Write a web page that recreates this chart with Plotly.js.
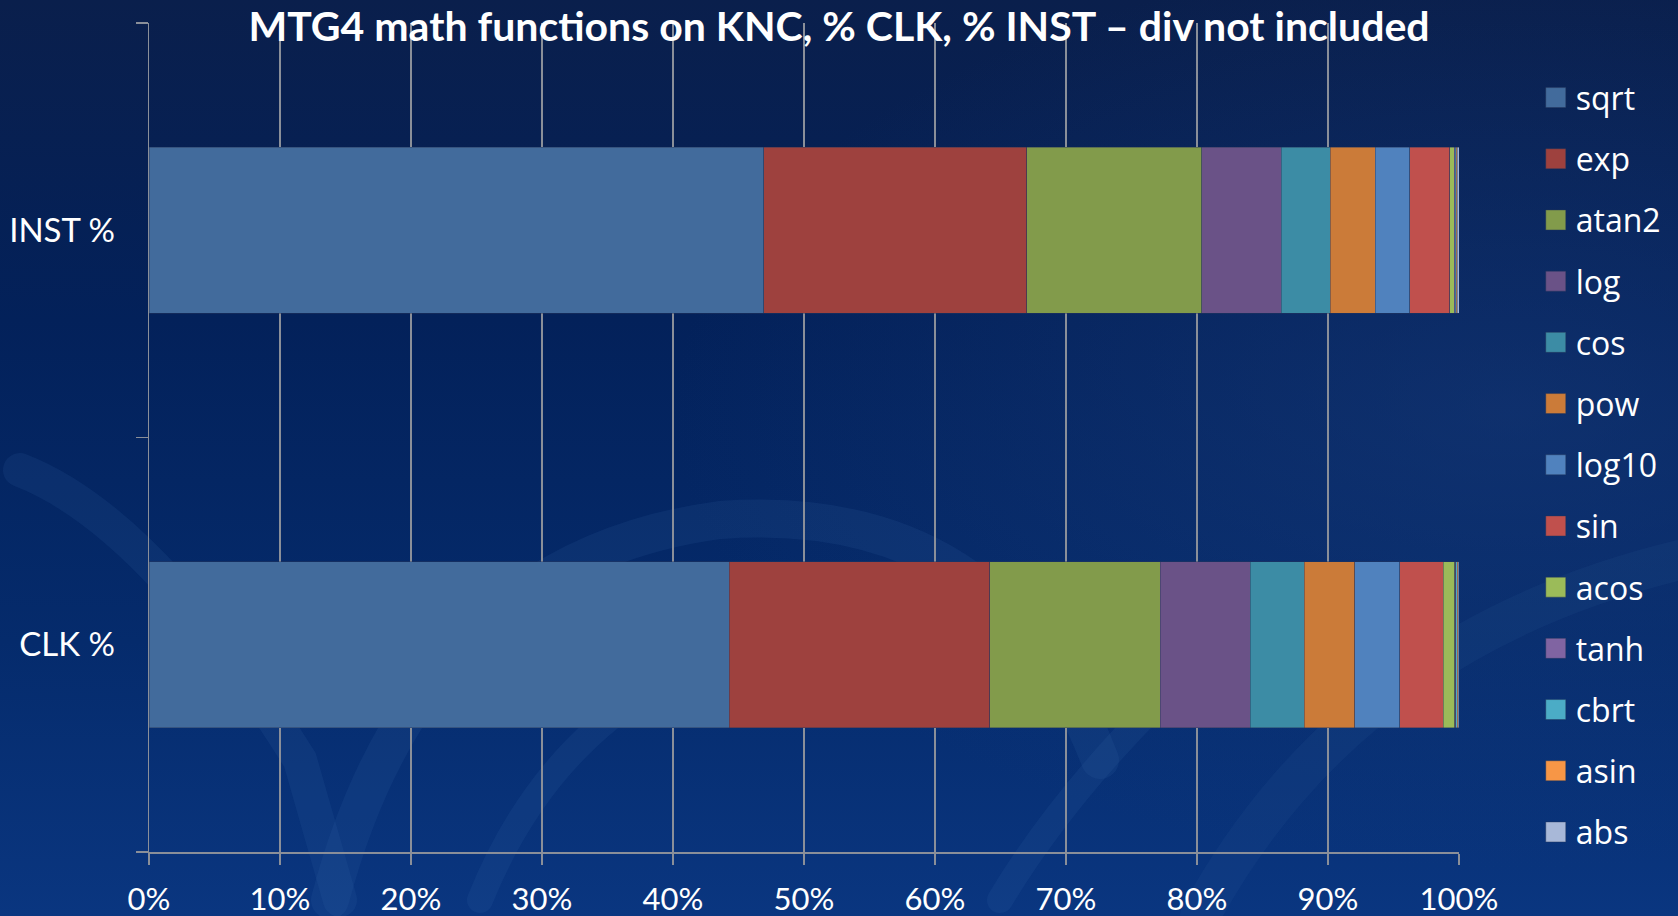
<!DOCTYPE html>
<html>
<head>
<meta charset="utf-8">
<script src="https://cdn.plot.ly/plotly-3.0.1.min.js"></script>
<style>
  html, body { margin: 0; padding: 0; width: 1678px; height: 916px; overflow: hidden; }
  body {
    background: linear-gradient(180deg, #0a1f4c 0%, #03215a 35%, #052b6c 70%, #0a3680 100%);
    position: relative;
  }
  #bg { position: absolute; left: 0; top: 0; width: 1678px; height: 916px; }
  #chart { position: absolute; left: 0; top: 0; width: 1678px; height: 916px; }
</style>
</head>
<body>
<!-- faint watermark swirls behind the chart -->
<svg id="bg" viewBox="0 0 1678 916" xmlns="http://www.w3.org/2000/svg">
  <defs>
    <radialGradient id="glow" cx="0.9" cy="0.45" r="0.5">
      <stop offset="0" stop-color="#1c3f7e" stop-opacity="0.45"/>
      <stop offset="1" stop-color="#1c3f7e" stop-opacity="0"/>
    </radialGradient>
  </defs>
  <rect x="0" y="0" width="1678" height="916" fill="url(#glow)"/>
  <g fill="none" stroke="#3a67a8" stroke-opacity="0.14" stroke-linecap="round">
    <path d="M 330 900 Q 420 560 720 520 Q 1000 500 1100 760" stroke-width="38"/>
    <path d="M 20 470 Q 150 520 300 760 L 340 900" stroke-width="34"/>
    <path d="M 480 900 Q 560 700 760 640" stroke-width="26"/>
    <path d="M 1000 900 Q 1060 800 1160 700" stroke-width="26"/>
    <path d="M 1200 916 Q 1350 640 1680 560" stroke-width="40" stroke-opacity="0.1"/>
  </g>
</svg>
<div id="chart"></div>
<script>
// Share of each math function, per metric (percent of total)
const categories = ["CLK %", "INST %"];
const functionNames = ["sqrt", "exp", "atan2", "log", "cos", "pow", "log10",
                       "sin", "acos", "tanh", "cbrt", "asin", "abs"];
// values ordered as [CLK %, INST %]
const sqrtVals  = [44.29, 46.94];
const expVals   = [19.90, 20.07];
const atan2Vals = [13.02, 13.35];
const logVals   = [6.87, 6.09];
const cosVals   = [4.09, 3.74];
const powVals   = [3.89, 3.43];
const log10Vals = [3.42, 2.62];
const sinVals   = [3.33, 3.05];
const acosVals  = [0.86, 0.33];
const tanhVals  = [0.08, 0.10];
const cbrtVals  = [0.10, 0.08];
const asinVals  = [0.08, 0.08];
const absVals   = [0.07, 0.12];
const xTickVals = [0, 10, 20, 30, 40, 50, 60, 70, 80, 90, 100];
const xTickText = ["0%", "10%", "20%", "30%", "40%", "50%", "60%", "70%", "80%", "90%", "100%"];

const seriesValues = [sqrtVals, expVals, atan2Vals, logVals, cosVals, powVals, log10Vals,
                      sinVals, acosVals, tanhVals, cbrtVals, asinVals, absVals];
const colors = ["#426b9c", "#9e413e", "#829b4b", "#6a5287", "#3c8ca5", "#cb7b39", "#5082be",
                "#c0504d", "#9bbb59", "#8064a2", "#4bacc6", "#f79646", "#a8b8d8"];

const traces = functionNames.map((name, i) => ({
  type: "bar",
  orientation: "h",
  name: name,
  legendgroup: name,
  y: categories,
  x: seriesValues[i],
  marker: { color: colors[i], line: { color: "rgba(40,55,90,0.55)", width: 0.8 } },
  hoverinfo: "name+x"
}));

const layout = {
  width: 1678,
  height: 916,
  paper_bgcolor: "rgba(0,0,0,0)",
  plot_bgcolor: "rgba(0,0,0,0)",
  margin: { l: 149, r: 219, t: 23, b: 64 },
  barmode: "stack",
  bargap: 0.6,
  title: {
    text: "<b>MTG4 math functions on KNC, % CLK, % INST \u2013 div not included</b>",
    font: { family: "Lato, 'Open Sans', sans-serif", size: 41, color: "#ffffff" },
    x: 0.5, xref: "container",
    y: 0.971, yref: "container", yanchor: "middle"
  },
  xaxis: {
    range: [0, 100],
    tickvals: xTickVals,
    ticktext: xTickText,
    showgrid: true,
    gridcolor: "#8a8f99",
    gridwidth: 1.5,
    zeroline: false,
    showline: true,
    linecolor: "#8a8f99",
    linewidth: 1.5,
    ticks: "outside",
    ticklen: 11,
    tickwidth: 1.5,
    tickcolor: "#8a8f99",
    ticklabelstandoff: 8,
    tickfont: { family: "Lato, sans-serif", size: 31, color: "#ffffff" },
    fixedrange: true
  },
  yaxis: {
    type: "category",
    categoryorder: "array",
    categoryarray: categories,
    tickson: "boundaries",
    showgrid: false,
    zeroline: false,
    showline: true,
    linecolor: "#8a8f99",
    linewidth: 1.5,
    ticks: "outside",
    ticklen: 12,
    tickwidth: 1.5,
    tickcolor: "#8a8f99",
    ticklabelstandoff: 26,
    tickfont: { family: "Lato, sans-serif", size: 33, color: "#ffffff" },
    fixedrange: true
  },
  legend: {
    x: 1.0586, xanchor: "left",
    y: 0.943, yanchor: "top",
    traceorder: "grouped",
    tracegroupgap: 16.6,
    bgcolor: "rgba(0,0,0,0)",
    font: { family: "'Open Sans', sans-serif", size: 32, color: "#ffffff" }
  },
  showlegend: true
};

Plotly.newPlot("chart", traces, layout, { displayModeBar: false, staticPlot: true }).then(gd => {
  // draw the legend swatches as 20px square blocks
  gd.querySelectorAll(".legendpoints path").forEach(p => {
    p.setAttribute("d", "M10,10H-10V-10H10Z");
  });
});
</script>
</body>
</html>
